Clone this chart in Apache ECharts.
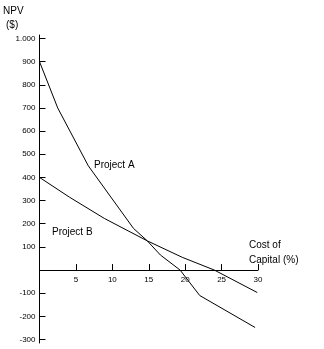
<!DOCTYPE html>
<html><head><meta charset="utf-8">
<script src="https://cdn.jsdelivr.net/npm/echarts@6/dist/echarts.min.js"></script>
<style>html,body{margin:0;padding:0;background:#fff}#c{width:324px;height:349px}</style>
</head><body><div id="c"></div>
<script>
// Cost of capital (%) and NPV ($)
const projectA_x = [0, 2.5, 6.7, 12.9, 14.8, 16.6, 19.3, 22, 29.6];
const projectA_y = [900, 700, 450, 180, 126, 65, 0, -110, -248];
const projectB_x = [0, 4.1, 8.9, 14.8, 19.6, 24, 29.9];
const projectB_y = [400, 315, 223, 126, 55, 0, -97];
const xTicks = [5, 10, 15, 20, 25, 30];
const yTicks = [-300, -200, -100, 100, 200, 300, 400, 500, 600, 700, 800, 900, 1000];
const yTickLabels = ['-300', '-200', '-100', '100', '200', '300', '400', '500', '600', '700', '800', '900', '1.000'];

const pair = (xs, ys) => xs.map((x, i) => [x, ys[i]]);
const font = 'Liberation Sans';
const yMin = -315, yMax = 1015, gridTop = 35, gridBottom = 6, H = 349;
const gridH = H - gridTop - gridBottom;
const zeroOffset = (0 - yMin) / (yMax - yMin) * gridH;
const chart = echarts.init(document.getElementById('c'));
chart.setOption({
  animation: false,
  grid: {left: 39.5, right: 66, top: gridTop, bottom: gridBottom, containLabel: false},
  xAxis: {
    type: 'value', min: 0, max: 30, position: 'bottom', offset: -zeroOffset,
    axisLine: {onZero: false, lineStyle: {color: '#000', width: 1}},
    axisTick: {inside: true, length: 6, customValues: xTicks, lineStyle: {color: '#000'}},
    axisLabel: {customValues: xTicks, color: '#000', fontSize: 8, fontFamily: font, margin: 6},
    splitLine: {show: false}
  },
  yAxis: {
    type: 'value', min: yMin, max: yMax,
    axisLine: {show: true, onZero: false, lineStyle: {color: '#000', width: 1}},
    axisTick: {show: true, inside: true, length: 6, customValues: yTicks, lineStyle: {color: '#000'}},
    axisLabel: {customValues: yTicks, color: '#000', fontSize: 8, fontFamily: font, margin: 4,
      formatter: v => yTickLabels[yTicks.indexOf(v)]},
    splitLine: {show: false}
  },
  graphic: [
    {type: 'text', left: 3, top: 6, style: {text: 'NPV', font: '10px ' + font, fill: '#000'}},
    {type: 'text', left: 6, top: 20, style: {text: '($)', font: '10px ' + font, fill: '#000'}},
    {type: 'text', left: 94, top: 160, style: {text: 'Project A', font: '10px ' + font, fill: '#000'}},
    {type: 'text', left: 52, top: 227, style: {text: 'Project B', font: '10px ' + font, fill: '#000'}},
    {type: 'text', left: 249, top: 238, style: {text: 'Cost of\nCapital (%)', font: '10px ' + font, fill: '#000', lineHeight: 15}}
  ],
  series: [
    {type: 'line', data: pair(projectA_x, projectA_y), showSymbol: false, lineStyle: {color: '#000', width: 1}},
    {type: 'line', data: pair(projectB_x, projectB_y), showSymbol: false, lineStyle: {color: '#000', width: 1}}
  ]
});
</script></body></html>
